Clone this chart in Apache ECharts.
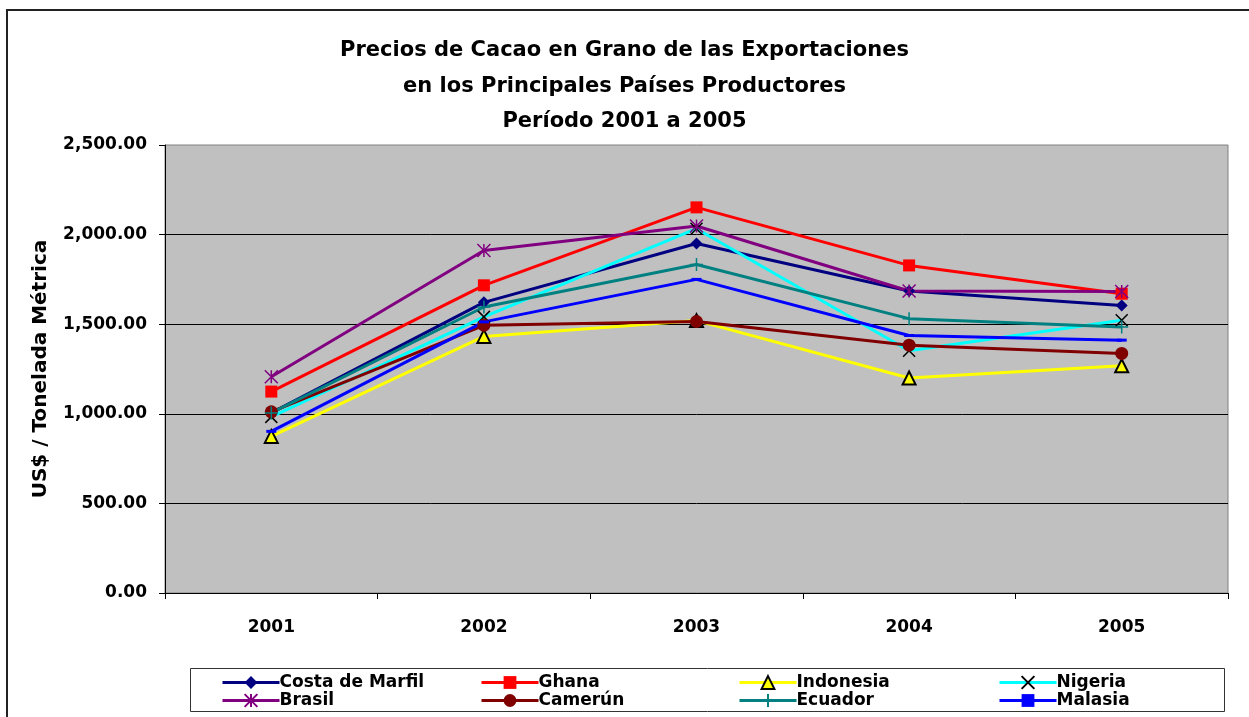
<!DOCTYPE html>
<html>
    <head>
        <meta charset="utf-8"/>
        <title>Precios de Cacao</title>
        <script src="https://cdn.jsdelivr.net/npm/echarts@6/dist/echarts.min.js"></script>
        <style>
            html, body { margin: 0; padding: 0; background: #fff; }
        </style>
    </head>
    <body>
        <div id="main" style="width: 1249px;height:717px;"></div>
        <script type="text/javascript">
            // datos
            var years = ['2001', '2002', '2003', '2004', '2005'];
            var costaDeMarfil = [1005, 1622, 1950, 1685, 1605];
            var ghana = [1124, 1717, 2152, 1828, 1670];
            var indonesia = [874, 1432, 1520, 1200, 1268];
            var nigeria = [983, 1541, 2033, 1352, 1522];
            var brasil = [1207, 1911, 2048, 1685, 1682];
            var camerun = [1011, 1494, 1515, 1383, 1337];
            var ecuador = [1005, 1596, 1833, 1531, 1485];
            var malasia = [902, 1513, 1750, 1437, 1411];

            var font = 'DejaVu Sans, Verdana, sans-serif';

            var chartDom = document.getElementById('main');
            var myChart = echarts.init(chartDom);

            function fmt(v) {
                var s = Math.round(v).toString().replace(/\B(?=(\d{3})+(?!\d))/g, ',');
                return s + '.00';
            }

            var X = 'path://M0,0L10,10M10,0L0,10';
            var STAR = 'path://M0,0L10,10M10,0L0,10M5,0L5,10';
            var PLUS = 'path://M0,5L10,5M5,0L5,10';
            var DASH = 'path://M0,0L10,0L10,2L0,2Z';

            var series = [
                {name: 'Costa de Marfil', data: costaDeMarfil, color: '#000080', symbol: 'diamond', size: 12},
                {name: 'Ghana', data: ghana, color: '#FF0000', symbol: 'rect', size: 12},
                {name: 'Indonesia', data: indonesia, color: '#FFFF00', symbol: 'triangle', size: 13, border: '#000000'},
                {name: 'Nigeria', data: nigeria, color: '#00FFFF', symbol: X, size: 12, stroke: '#000000'},
                {name: 'Brasil', data: brasil, color: '#800080', symbol: STAR, size: 13, stroke: '#800080'},
                {name: 'Camerún', data: camerun, color: '#800000', symbol: 'circle', size: 13},
                {name: 'Ecuador', data: ecuador, color: '#008080', symbol: PLUS, size: 13, stroke: '#008080'},
                {name: 'Malasia', data: malasia, color: '#0000FF', symbol: DASH, size: [10, 3]}
            ];

            var legendCols = [221, 480, 738, 998];
            var legendRows = [674, 692];

            var option = {
                backgroundColor: '#ffffff',
                animation: false,
                title: {
                    text: 'Precios de Cacao en Grano de las Exportaciones\nen los Principales Países Productores\nPeríodo 2001 a 2005',
                    left: 'center',
                    top: 28,
                    textStyle: {
                        fontFamily: font,
                        fontWeight: 'bold',
                        fontSize: 21,
                        lineHeight: 35.5,
                        color: '#000'
                    }
                },
                legend: series.map(function (s, i) {
                    return {
                        data: [s.name],
                        left: legendCols[i % 4],
                        top: legendRows[Math.floor(i / 4)],
                        padding: 0,
                        itemWidth: 57,
                        itemHeight: 16,
                        itemGap: 0,
                        lineStyle: {width: 3},
                        textStyle: {fontFamily: font, fontWeight: 'bold', fontSize: 17, color: '#000', padding: [0, 0, 0, -5]}
                    };
                }),
                graphic: [
                    {
                        type: 'rect',
                        shape: {x: 7, y: 10, width: 1300, height: 800},
                        style: {fill: 'none', stroke: '#222', lineWidth: 2},
                        silent: true
                    },
                    {
                        type: 'rect',
                        shape: {x: 190.5, y: 668.5, width: 1034, height: 43},
                        style: {fill: 'none', stroke: '#333', lineWidth: 1},
                        silent: true,
                        z: -1
                    }
                ],
                grid: {
                    left: 165,
                    right: 21,
                    top: 145,
                    bottom: 124,
                    show: true,
                    backgroundColor: '#C0C0C0',
                    borderColor: '#808080',
                    borderWidth: 1
                },
                xAxis: {
                    type: 'category',
                    data: years,
                    boundaryGap: true,
                    axisLine: {lineStyle: {color: '#000', width: 1}},
                    axisTick: {show: true, length: 6, lineStyle: {color: '#000'}},
                    axisLabel: {
                        margin: 26,
                        fontFamily: font,
                        fontWeight: 'bold',
                        fontSize: 17,
                        color: '#000'
                    }
                },
                yAxis: {
                    type: 'value',
                    min: 0,
                    max: 2500,
                    interval: 500,
                    name: 'US$ / Tonelada Métrica',
                    nameLocation: 'middle',
                    nameGap: 114,
                    nameTextStyle: {fontFamily: font, fontWeight: 'bold', fontSize: 20, color: '#000'},
                    axisLine: {show: true, lineStyle: {color: '#000', width: 1}},
                    axisTick: {show: true, length: 6, lineStyle: {color: '#000'}},
                    splitLine: {show: true, showMaxLine: false, lineStyle: {color: '#000', width: 1}},
                    axisLabel: {
                        margin: 18,
                        formatter: fmt,
                        fontFamily: font,
                        fontWeight: 'bold',
                        fontSize: 17,
                        color: '#000'
                    }
                },
                series: series.map(function (s) {
                    var itemStyle;
                    if (s.stroke) {
                        itemStyle = {color: 'rgba(0,0,0,0)', borderColor: s.stroke, borderWidth: 1.5};
                    } else if (s.border) {
                        itemStyle = {color: s.color, borderColor: s.border, borderWidth: 2};
                    } else {
                        itemStyle = {color: s.color};
                    }
                    return {
                        name: s.name,
                        type: 'line',
                        data: s.data,
                        symbol: s.symbol,
                        symbolSize: s.size,
                        showSymbol: true,
                        lineStyle: {color: s.color, width: 3},
                        itemStyle: itemStyle,
                        emphasis: {disabled: true}
                    };
                })
            };

            myChart.setOption(option);
        </script>
    </body>
</html>
